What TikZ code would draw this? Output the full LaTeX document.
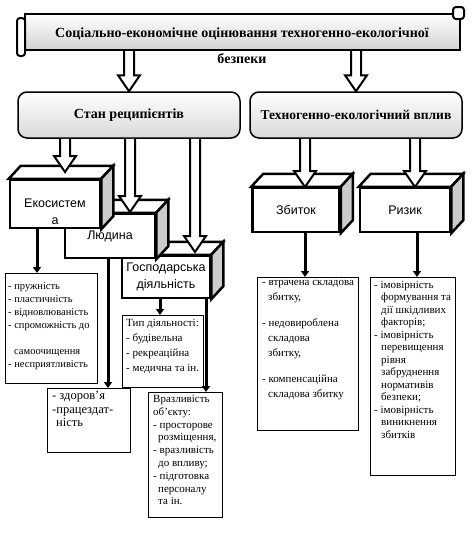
\documentclass[tikz,border=0pt]{standalone}
\usepackage{fontspec}
\setmainfont{Liberation Serif}
\setsansfont{Liberation Sans}
\usetikzlibrary{arrows.meta,calc}

% top and side faces of a box drawn round a node
\newcommand{\cubefaces}[1]{%
  \draw[cubeline,fill=white] (#1.north west) -- ++(12,-13) -- ([shift={(12,-13)}]#1.north east) -- (#1.north east) -- cycle;
  \draw[cubeline,fill=gray!40] (#1.north east) -- ++(12,-13) -- ([shift={(12,-13)}]#1.south east) -- (#1.south east) -- cycle;}

% hollow block arrow from #1 down to #2
\newcommand{\hollowarrow}[2]{%
  \draw[blockarrow] let \p1=(#1), \p2=(#2) in
    (\x1-5pt,\y1) -- (\x1-5pt,\y2+16pt) -- (\x1-11pt,\y2+16pt) -- (\x1,\y2)
    -- (\x1+11pt,\y2+16pt) -- (\x1+5pt,\y2+16pt) -- (\x1+5pt,\y1);}

\begin{document}
\begin{tikzpicture}[x=1pt,y=-1pt]
\tikzstyle{cubeline}=[line width=2.5pt, line join=miter]
\tikzstyle{cube}=[rectangle, draw, cubeline, fill=white, align=center, inner sep=0pt,
                  font=\sffamily\fontsize{12.5}{17}\selectfont]
\tikzstyle{cubetext}=[align=center, inner sep=0pt, font=\sffamily\fontsize{12.5}{17}\selectfont]
\tikzstyle{banner}=[rectangle, draw, line width=2pt, top color=white, bottom color=gray!35,
                    minimum width=435, minimum height=36]
\tikzstyle{roundbox}=[rectangle, rounded corners=9pt, draw, line width=1.5pt,
                      top color=white, bottom color=gray!30, minimum height=46,
                      font=\bfseries\fontsize{14}{16}\selectfont]
\tikzstyle{blockarrow}=[line width=2pt, fill=white, line join=miter]
\tikzstyle{link}=[line width=3pt, -{Triangle[length=6pt,width=8pt]}]
\tikzstyle{listbox}=[rectangle, draw, line width=0.8pt, anchor=north west, inner sep=0pt, fill=white]
\tikzstyle{listtext}=[anchor=north west, align=left, inner sep=0pt]

\useasboundingbox (0,0) rectangle (473,546);

% title scroll
\node[banner] (banner) at (242.5,32) {};
\draw[line width=2pt, fill=white, rounded corners=3pt] ([shift={(-7,5)}]banner.north west) rectangle ([shift={(1,5)}]banner.south west);
\draw[line width=2pt, fill=white, rounded corners=3pt] ([shift={(-8,-6)}]banner.north east) rectangle ([shift={(3,6)}]banner.north east);
\node[align=center, font=\bfseries\fontsize{14}{26}\selectfont] (title) at (242,46)
  {Соціально-економічне оцінювання техногенно-екологічної\\безпеки};

\node[roundbox, minimum width=222] (stan) at (129,115) {Стан реципієнтів};
\node[roundbox, minimum width=212, font=\bfseries\fontsize{13.5}{16}\selectfont] (tech) at (356,115) {Техногенно-екологічний вплив};

% boxes, back to front
\node[cube, minimum width=88, minimum height=42] (gosp) at (166,277) {Господарська\\діяльність};
\cubefaces{gosp}
\node[cube, minimum width=90, minimum height=44] (lyu) at (110,236) {Людина};
\cubefaces{lyu}
\node[cube, minimum width=90, minimum height=48] (eko) at (55,204) {};
\cubefaces{eko}
\node[cubetext] (ekotext) at (55,212) {Екосистем\\а};
\node[cube, minimum width=87, minimum height=44] (zbit) at (296,210) {Збиток};
\cubefaces{zbit}
\node[cube, minimum width=90, minimum height=44] (ryz) at (405,210) {Ризик};
\cubefaces{ryz}

% block arrows
\coordinate (eko-in) at (65,172);
\coordinate (lyu-in) at (130,212);
\coordinate (gosp-in) at (195,252);
\coordinate (zbit-in) at (305,187);
\coordinate (ryz-in) at (415,187);
\hollowarrow{stan.north |- banner.south}{stan.north}
\hollowarrow{tech.north |- banner.south}{tech.north}
\hollowarrow{stan.south -| eko-in}{eko-in}
\hollowarrow{stan.south -| lyu-in}{lyu-in}
\hollowarrow{stan.south -| gosp-in}{gosp-in}
\hollowarrow{tech.south -| zbit-in}{zbit-in}
\hollowarrow{tech.south -| ryz-in}{ryz-in}

% lists
\node[listbox, minimum width=92, minimum height=110] (ekolist) at (5,273) {};
\node[listtext, font=\fontsize{10.5}{13}\selectfont] at ([shift={(3,9)}]ekolist.north west)
  {- пружність\\- пластичність\\- відновлюваність\\- спроможність до\\[13pt]\hspace*{6pt}самоочищення\\- несприятливість};
\node[listbox, minimum width=81, minimum height=72] (typlist) at (122,315) {};
\node[listtext, font=\fontsize{11}{15}\selectfont] at ([shift={(4,4)}]typlist.north west)
  {Тип діяльності:\\- будівельна\\- рекреаційна\\- медична та ін.};
\node[listbox, minimum width=83, minimum height=64] (lyulist) at (47,388) {};
\node[listtext, font=\fontsize{12.5}{13.5}\selectfont] at ([shift={(5,3)}]lyulist.north west)
  {- здоров’я\\-працездат-\\\hspace*{4pt}ність};
\node[listbox, minimum width=74, minimum height=125] (vrazl) at (148,392) {};
\node[listtext, font=\fontsize{11}{12.8}\selectfont] at ([shift={(5,3)}]vrazl.north west)
  {Вразливість\\об’єкту:\\- просторове\\\hspace*{5pt}розміщення,\\- вразливість\\\hspace*{5pt}до впливу;\\- підготовка\\\hspace*{5pt}персоналу\\\hspace*{5pt}та ін.};
\node[listbox, minimum width=101, minimum height=153] (zbitlist) at (257,277) {};
\node[listtext, font=\fontsize{11}{15}\selectfont] at ([shift={(5,3)}]zbitlist.north west)
  {- втрачена складова\\\hspace*{6pt}збитку,\\[11pt]- недовироблена\\\hspace*{6pt}складова\\\hspace*{6pt}збитку,\\[11pt]- компенсаційна\\\hspace*{6pt}складова збитку};
\node[listbox, minimum width=85, minimum height=198] (ryzlist) at (370,277) {};
\node[listtext, font=\fontsize{11}{12.5}\selectfont] at ([shift={(4,4)}]ryzlist.north west)
  {- імовірність\\\hspace*{7pt}формування та\\\hspace*{7pt}дії шкідливих\\\hspace*{7pt}факторів;\\- імовірність\\\hspace*{7pt}перевищення\\\hspace*{7pt}рівня\\\hspace*{7pt}забруднення\\\hspace*{7pt}нормативів\\\hspace*{7pt}безпеки;\\- імовірність\\\hspace*{7pt}виникнення\\\hspace*{7pt}збитків};

% links
\coordinate (eko-out) at ([xshift=-18]eko.south);
\coordinate (lyu-out) at ([xshift=-2]lyu.south);
\coordinate (gosp-out) at ([xshift=-6]gosp.south);
\coordinate (gosp-out2) at ([xshift=40]gosp.south);
\coordinate (zbit-out) at ([xshift=9]zbit.south);
\coordinate (ryz-out) at ([xshift=12]ryz.south);
\draw[link] (eko-out) -- (eko-out |- ekolist.north);
\draw[link] (lyu-out) -- (lyu-out |- lyulist.north);
\draw[link] (gosp-out) -- (gosp-out |- typlist.north);
\draw[link] (gosp-out2) -- (gosp-out2 |- vrazl.north);
\draw[link] (zbit-out) -- (zbit-out |- zbitlist.north);
\draw[link] (ryz-out) -- (ryz-out |- ryzlist.north);
\end{tikzpicture}
\end{document}
